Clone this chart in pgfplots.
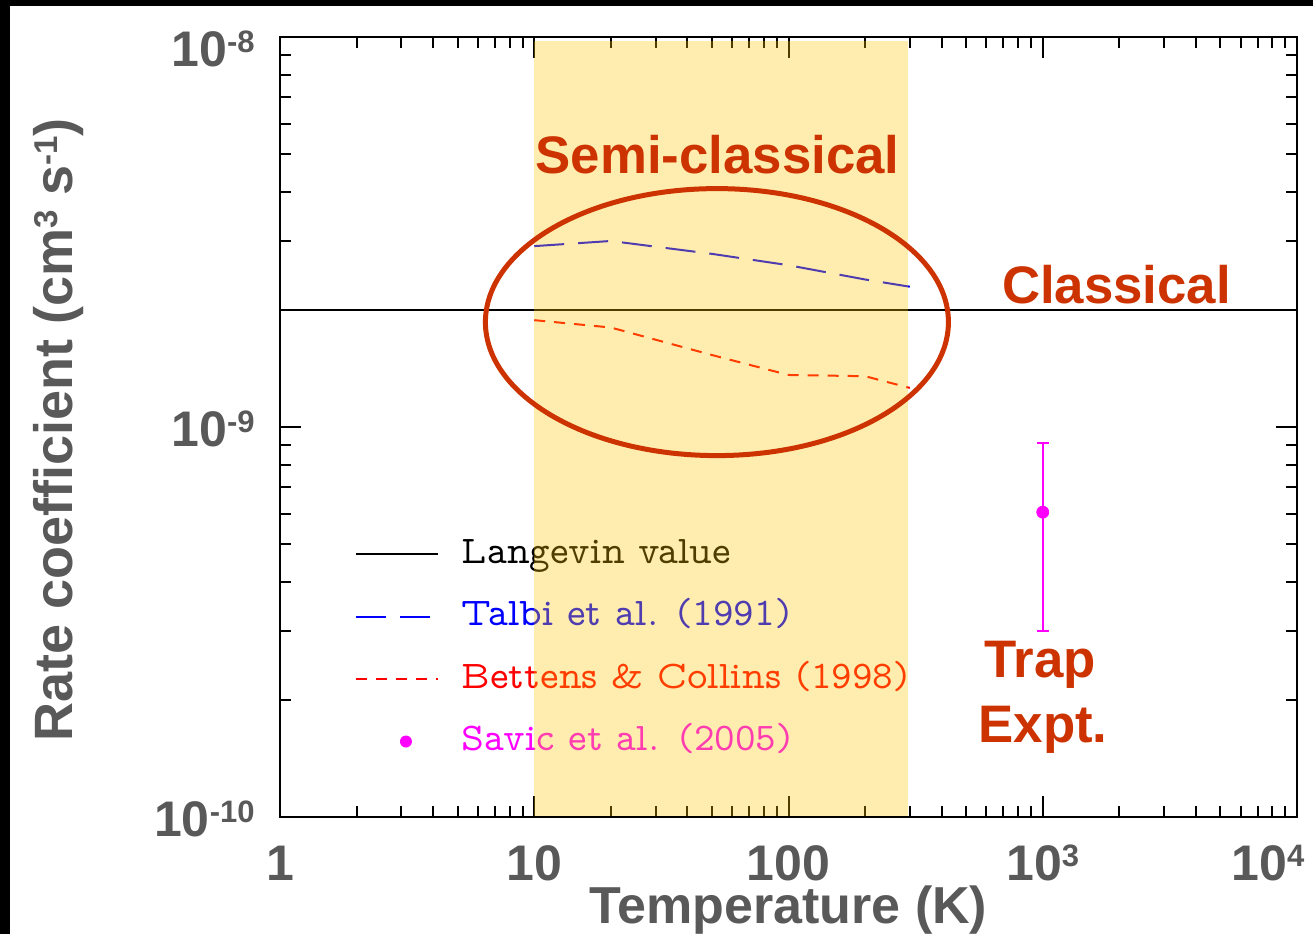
\documentclass[border=0pt]{standalone}
\usepackage{pgfplots}
\pgfplotsset{compat=1.18}
\usepackage{fontspec}
\setmainfont{Liberation Sans}
\definecolor{tgray}{RGB}{89,89,89}
\definecolor{cc}{RGB}{204,51,0}
\definecolor{ybase}{RGB}{255,197,0}
\definecolor{mag}{RGB}{255,0,255}
\definecolor{bl}{RGB}{0,0,255}
\definecolor{rd}{RGB}{255,0,0}
\newcommand\sups[1]{\raisebox{6.8pt}{\fontsize{15.5}{16}\selectfont #1}}
\newcommand\ysups[1]{\raisebox{7.3pt}{\fontsize{16.5}{17}\selectfont #1}}
\newcommand\tickfont{\bfseries\fontsize{25}{30}\selectfont}
\newcommand\labfont{\bfseries\fontsize{26}{31}\selectfont}
\newcommand\ylabfont{\bfseries\fontsize{27}{32}\selectfont}
\newcommand\annfont{\bfseries\fontsize{26.4}{31}\selectfont}
\newcommand\legfont{\fontfamily{lmvtt}\mdseries\fontsize{19.6}{22}\selectfont}

\begin{document}
\begin{tikzpicture}
\useasboundingbox (-140pt,-58.5pt) rectangle (516.5pt,408.5pt);
\fill[black] (-140pt,-58.5pt) rectangle (516.5pt,408.5pt);
\fill[white] (-135pt,-58.5pt) rectangle (516.5pt,405.5pt);
\begin{axis}[
  scale only axis,
  width=508.5pt, height=390pt,
  xmode=log, ymode=log,
  xmin=1, xmax=1e4, ymin=1e-10, ymax=1e-8,
  axis line style={line width=1pt, black},
  every tick/.style={black, line width=1pt},
  major tick length=10.5pt, minor tick length=5.5pt,
  tick align=inside, tick pos=both,
  xticklabel pos=lower, yticklabel pos=left,
  xtick={1,10,100,1000},
  xticklabels={1,10,100,10\sups{3}},
  extra x ticks={10000},
  extra x tick labels={10\sups{4}},
  extra x tick style={xticklabel style={xshift=-14.5pt}},
  minor xtick={2,3,4,5,6,7,8,9,20,30,40,50,60,70,80,90,200,300,400,500,600,700,800,900,2000,3000,4000,5000,6000,7000,8000,9000},
  ytick={1e-10,1e-9},
  yticklabels={10\sups{-10},10\sups{-9}},
  extra y ticks={1e-8},
  extra y tick labels={10\sups{-8}},
  extra y tick style={yticklabel style={yshift=-5pt}},
  minor ytick={2e-10,3e-10,4e-10,5e-10,6e-10,7e-10,8e-10,9e-10,2e-9,3e-9,4e-9,5e-9,6e-9,7e-9,8e-9,9e-9},
  tick label style={font=\tickfont, text=tgray},
  xticklabel style={anchor=base, inner sep=0pt, yshift=-31.5pt},
  yticklabel style={anchor=base east, inner sep=0pt, xshift=-12.5pt, yshift=-9.5pt},
  xlabel={Temperature (K)},
  xlabel style={at={(axis description cs:0.5,-0.1359)}, anchor=base, font=\labfont, text=tgray},
  ylabel={Rate coefficient (cm\ysups{3} s\ysups{-1})},
  ylabel style={at={(axis description cs:-0.2045,0.4962)}, anchor=base, font=\ylabfont, text=tgray},
  legend image code/.code={\draw[#1] (0pt,0pt) -- (41pt,0pt);},
  legend cell align=left,
  legend style={draw=none, fill=none, at={(0.0737,0.3603)}, anchor=north west,
    inner sep=0pt, outer sep=0pt, row sep=13.25pt, column sep=11.5pt, font=\legfont,
    nodes={inner sep=0pt, text height=13.5pt, text depth=4.5pt}},
]
\addplot[black, line width=1pt] coordinates {(1,2.0e-9) (10000,2.0e-9)};
\addlegendentry{Langevin value}
\addplot[bl, line width=1pt, dash pattern=on 15pt off 7pt] coordinates {
  (10,2.91e-9) (20,3.0e-9) (50,2.78e-9) (100,2.60e-9) (200,2.39e-9) (300,2.29e-9)};
\addlegendentry{\textcolor{bl}{Talbi et al. (1991)}}
\addplot[rd, line width=1pt, dash pattern=on 5.5pt off 4.5pt] coordinates {
  (10,1.88e-9) (20,1.80e-9) (50,1.53e-9) (100,1.36e-9) (200,1.35e-9) (300,1.26e-9)};
\addlegendentry{\textcolor{rd}{Bettens \& Collins (1998)}}
\addplot[mag, only marks, mark=*, mark size=3pt, mark options={fill=mag, draw=mag},
  legend image code/.code={\path[draw=none, fill=none] (0pt,0pt) -- (41pt,0pt); \fill[mag, draw=none] (25pt,0pt) circle (3pt);},
  error bars/.cd, y dir=both, y explicit,
  error bar style={line width=0.8pt, mag},
  error mark options={mag, mark size=3pt, line width=0.8pt, rotate=90}]
  coordinates {(1000,6.05e-10) +- (0,3.05e-10)};
\addlegendentry{\textcolor{mag}{Savic et al. (2005)}}
\coordinate (yl) at (axis cs:10,1e-10);
\coordinate (yr) at (axis cs:295,1e-8);
\coordinate (ec) at (axis cs:52.3,1.858e-9);
\end{axis}
\fill[ybase, fill opacity=0.31] ([yshift=0.5pt]yl) rectangle ([yshift=-2pt]yr);
\draw[cc, line width=2.5pt] (ec) ellipse [x radius=115.75pt, y radius=66.75pt];
\node[anchor=base, text=cc, font=\annfont, inner sep=0pt] at (218.75pt,322pt) {Semi-classical};
\node[anchor=base, text=cc, font=\annfont, inner sep=0pt] at (418.25pt,257pt) {Classical};
\node[anchor=base, text=cc, font=\annfont, inner sep=0pt] at (380pt,70pt) {Trap};
\node[anchor=base, text=cc, font=\annfont, inner sep=0pt] at (381.5pt,37.5pt) {Expt.};
\end{tikzpicture}
\end{document}
